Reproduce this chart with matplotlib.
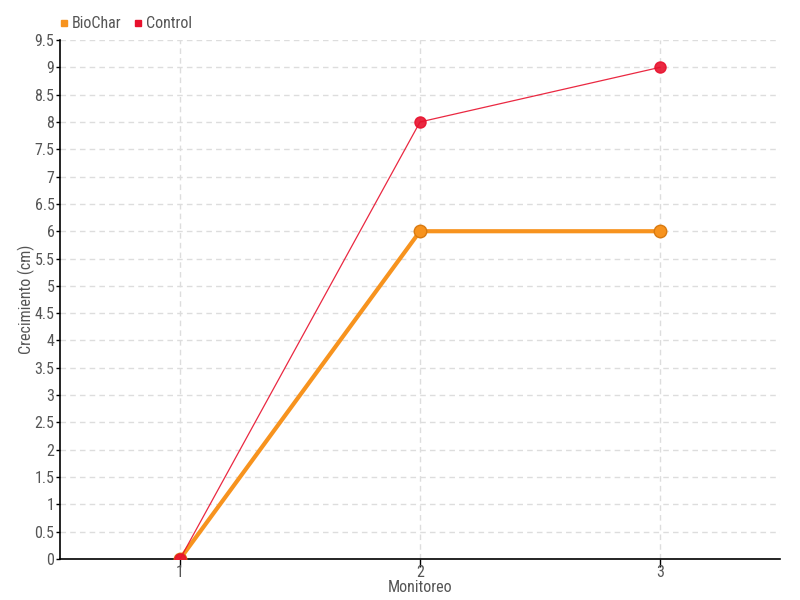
import matplotlib
matplotlib.use("Agg")
import matplotlib.pyplot as plt
from matplotlib.lines import Line2D
from matplotlib import font_manager

names = {f.name for f in font_manager.fontManager.ttflist}
fam = [n for n in ['Liberation Sans Narrow', 'Roboto Condensed', 'Roboto', 'DejaVu Sans'] if n in names]
plt.rcParams['font.family'] = fam + ['DejaVu Sans']

monitoreo = [1, 2, 3]
biochar = [0, 6, 6]
control = [0, 8, 9]
yticks = [i * 0.5 for i in range(20)]
ytick_labels = ['0', '0.5', '1', '1.5', '2', '2.5', '3', '3.5', '4', '4.5', '5', '5.5',
                '6', '6.5', '7', '7.5', '8', '8.5', '9', '9.5']

fig = plt.figure(figsize=(8, 6), dpi=100)
ax = fig.add_axes([0.075, 0.0683, 0.9, 0.865])

orange = '#f7931e'
red = '#e8112d'

ax.plot(monitoreo, biochar, color=orange, lw=3, marker='o', ms=9,
        markerfacecolor=orange, markeredgecolor='#d97a10', markeredgewidth=1, zorder=3)
ax.plot(monitoreo, control, color=red, lw=0.9, alpha=0.9, marker='o', ms=8,
        markerfacecolor=red, markeredgecolor=red, zorder=4)

ax.set_xlim(0.5, 3.5)
ax.set_ylim(0, 9.5)
ax.set_xticks(monitoreo)
ax.set_xticklabels([str(m) for m in monitoreo])
ax.set_yticks(yticks)
ax.set_yticklabels(ytick_labels)

ax.grid(True, color='#dddddd', linestyle=(0, (4, 3)), lw=1)
ax.set_axisbelow(True)
for s in ['top', 'right']:
    ax.spines[s].set_visible(False)
for s in ['left', 'bottom']:
    ax.spines[s].set_color('black')
    ax.spines[s].set_linewidth(1.2)
ax.tick_params(axis='both', colors='black', labelcolor='#555555', labelsize=11.5,
               width=1)
ax.tick_params(axis='y', length=3, pad=1)
ax.tick_params(axis='x', length=6, pad=-2)

ax.set_xlabel('Monitoreo', color='#555555', fontsize=11.5, labelpad=0)
ax.set_ylabel('Crecimiento (cm)', color='#555555', fontsize=11.5)
ax.yaxis.set_label_coords(-0.035, 0.5)

handles = [Line2D([], [], ls='none', marker='s', ms=5, color=orange),
           Line2D([], [], ls='none', marker='s', ms=5, color=red)]
leg = fig.legend(handles, ['BioChar', 'Control'], loc='upper left',
                 bbox_to_anchor=(0.052, 0.997), ncol=2, frameon=False,
                 fontsize=11.5, handletextpad=0.0, columnspacing=0.5,
                 handlelength=1.0, borderaxespad=0.5)
for t in leg.get_texts():
    t.set_color('#555555')

fig.savefig('out.png', dpi=100)
